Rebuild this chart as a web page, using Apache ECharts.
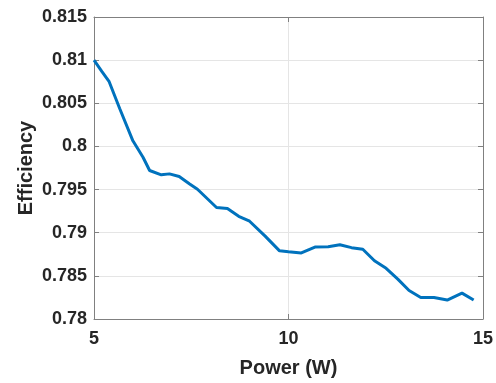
<!DOCTYPE html>
<html>
<head>
<meta charset="utf-8">
<script src="https://cdn.jsdelivr.net/npm/echarts@6/dist/echarts.min.js"></script>
<style>
  html, body { margin: 0; padding: 0; background: #fff; }
  #chart { width: 496px; height: 383px; }
</style>
</head>
<body>
<div id="chart"></div>
<script>
// power (W) and efficiency
const power = [5.0, 5.2, 5.39, 5.66, 6.0, 6.26, 6.43, 6.73, 6.94, 7.19, 7.45, 7.66,
  8.15, 8.43, 8.72, 9.0, 9.4, 9.77, 10.0, 10.33, 10.68, 11.02, 11.32, 11.62, 11.91,
  12.21, 12.51, 12.81, 13.1, 13.4, 13.74, 14.08, 14.46, 14.76];
const efficiency = [0.81, 0.8087, 0.8075, 0.8044, 0.80065, 0.79875, 0.79721, 0.79671,
  0.79682, 0.79652, 0.79568, 0.79504, 0.79292, 0.7928, 0.7919, 0.79133, 0.7896, 0.7879,
  0.7878, 0.78766, 0.78834, 0.78838, 0.78861, 0.78827, 0.78808, 0.78675, 0.78587,
  0.78462, 0.7833, 0.7825, 0.7825, 0.7822, 0.783, 0.7822];

const axisColor = "#808080";
const textColor = "#262626";
const font = "Liberation Sans, Arial, sans-serif";

const chart = echarts.init(document.getElementById("chart"));

const option = {
  animation: false,
  grid: { left: 94, top: 17, right: 10, bottom: 59, containLabel: false },
  xAxis: [
    {
      type: "value",
      min: 5, max: 15, interval: 5,
      name: "Power (W)",
      nameLocation: "middle",
      nameGap: 39,
      nameMoveOverlap: false,
      nameTextStyle: { fontFamily: font, fontSize: 20, fontWeight: "bold", color: textColor },
      axisLine: { show: true, lineStyle: { color: axisColor, width: 1 } },
      axisTick: { show: true, inside: true, length: 5, lineStyle: { color: axisColor } },
      axisLabel: { fontFamily: font, fontSize: 18, fontWeight: "bold", color: textColor, margin: 11 },
      splitLine: { show: true, lineStyle: { color: "#e5e5e5", width: 1 } }
    },
    {
      type: "value",
      position: "top",
      min: 5, max: 15, interval: 5,
      axisLine: { show: true, lineStyle: { color: axisColor, width: 1 } },
      axisTick: { show: true, inside: true, length: 5, lineStyle: { color: axisColor } },
      axisLabel: { show: false },
      splitLine: { show: false }
    }
  ],
  yAxis: [
    {
      type: "value",
      min: 0.78, max: 0.815, interval: 0.005,
      name: "Efficiency",
      nameLocation: "middle",
      nameGap: 58,
      nameMoveOverlap: false,
      nameTextStyle: { fontFamily: font, fontSize: 20, fontWeight: "bold", color: textColor },
      axisLine: { show: true, lineStyle: { color: axisColor, width: 1 } },
      axisTick: { show: true, inside: true, length: 5, lineStyle: { color: axisColor } },
      axisLabel: {
        fontFamily: font, fontSize: 18, fontWeight: "bold", color: textColor, margin: 7,
        formatter: (v) => String(parseFloat(v.toFixed(3)))
      },
      splitLine: { show: true, lineStyle: { color: "#e5e5e5", width: 1 } }
    },
    {
      type: "value",
      position: "right",
      min: 0.78, max: 0.815, interval: 0.005,
      axisLine: { show: true, lineStyle: { color: axisColor, width: 1 } },
      axisTick: { show: true, inside: true, length: 5, lineStyle: { color: axisColor } },
      axisLabel: { show: false },
      splitLine: { show: false }
    }
  ],
  series: [
    {
      type: "line",
      data: power.map((p, i) => [p, efficiency[i]]),
      showSymbol: false,
      lineStyle: { color: "#0072BD", width: 3 },
      itemStyle: { color: "#0072BD" }
    }
  ]
};

chart.setOption(option);
</script>
</body>
</html>
